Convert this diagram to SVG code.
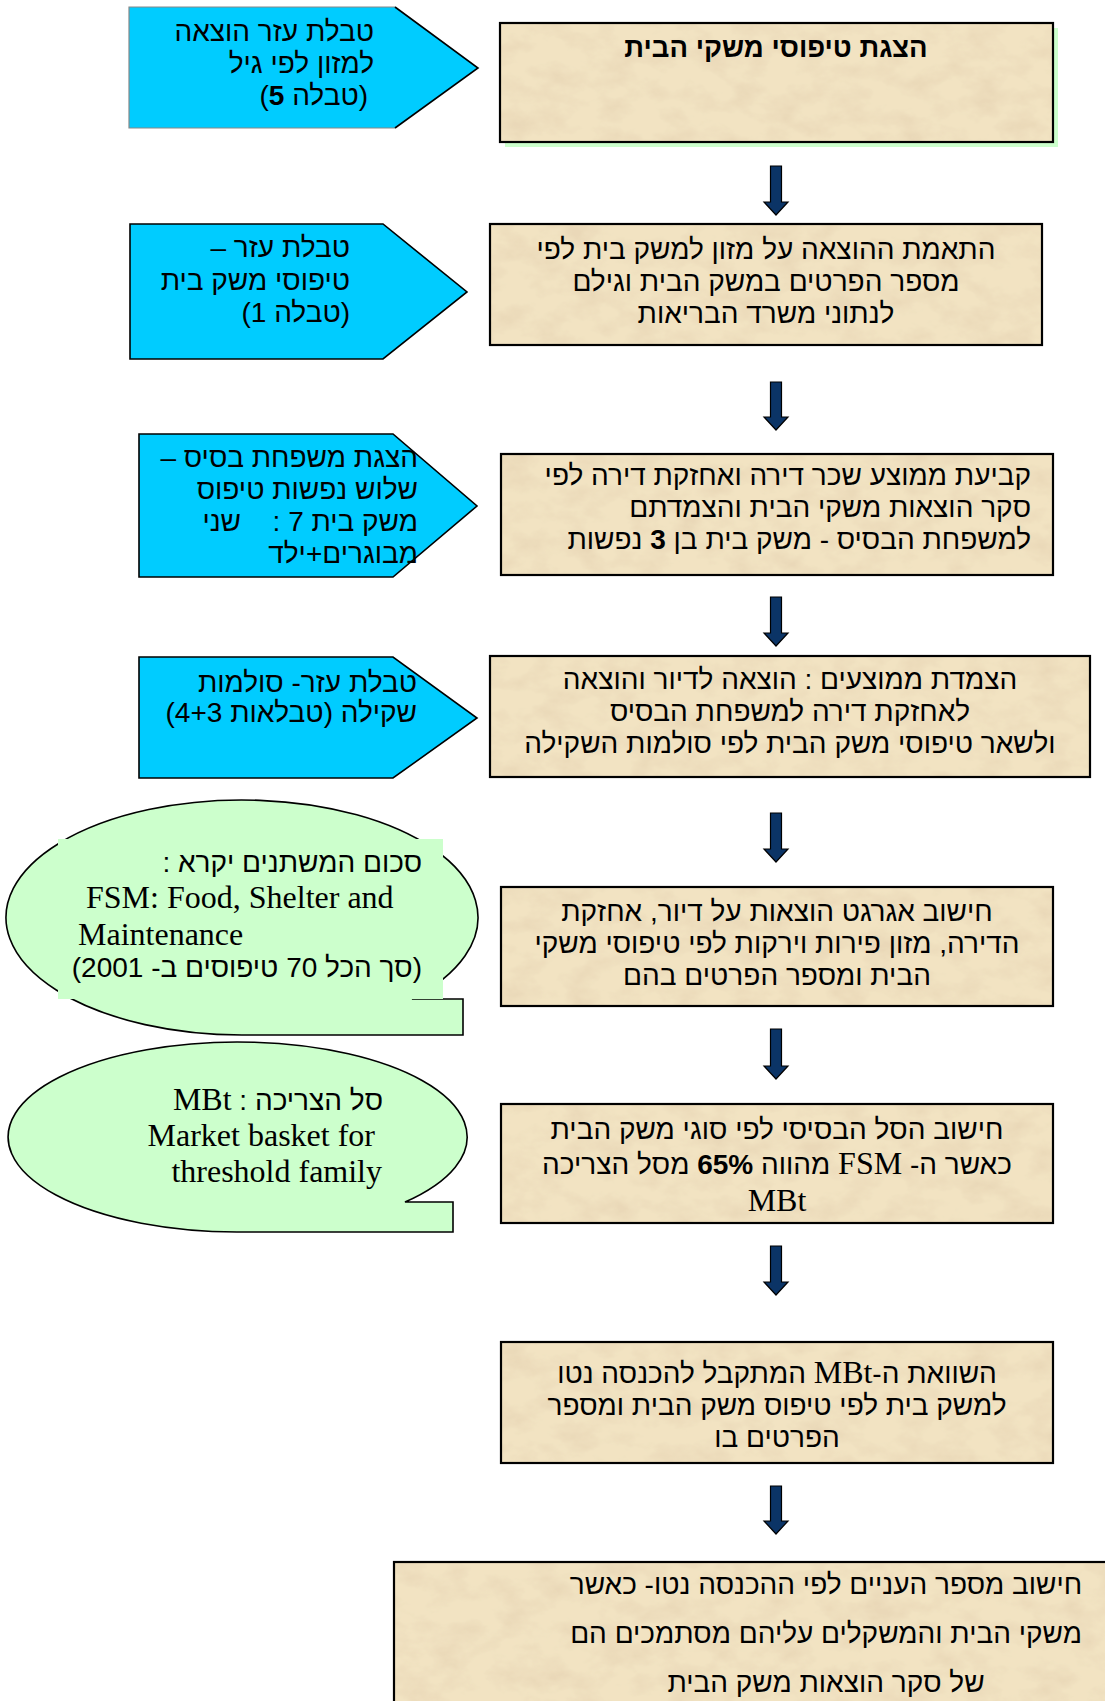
<svg xmlns="http://www.w3.org/2000/svg" width="1105" height="1701" viewBox="0 0 1105 1701">
<style>
.he{font-family:"Liberation Sans","DejaVu Sans",sans-serif;font-size:28px;fill:#000}
.en{font-family:"Liberation Serif","DejaVu Serif",serif;font-size:32px;fill:#000}
.b{font-weight:bold}
.title{font-size:27.5px}
.blue{fill:#00CCFF;stroke:none}
.edge{fill:none;stroke:#000;stroke-width:1.6}
.paper{fill:#F2E3C2;filter:url(#tex)}
.frame{fill:none;stroke:#000;stroke-width:2.2}
.bubble{fill:#CCFFCC;stroke:#000;stroke-width:1.6}
.arrow{fill:#0B3466;stroke:#000;stroke-width:1.2}
</style>
<defs>
<filter id="tex" x="0" y="0" width="1" height="1">
<feTurbulence type="fractalNoise" baseFrequency="0.03 0.045" numOctaves="4" seed="7" result="n"/>
<feColorMatrix in="n" type="matrix" values="0 0 0 0 0.82 0 0 0 0 0.69 0 0 0 0 0.48 2.4 0 0 0 -1.0" result="dark"/>
<feComposite in="dark" in2="SourceGraphic" operator="in" result="d2"/>
<feMerge><feMergeNode in="SourceGraphic"/><feMergeNode in="d2"/></feMerge>
</filter>
</defs>
<rect width="1105" height="1701" fill="#fff"/>

<!-- Left side: pentagons -->
<g id="p1">
<polygon class="blue" points="129,7 395,7 478,68 395,128 129,128"/>
<polyline points="395,7 129,7 129,128 395,128" fill="none" stroke="#888" stroke-width="1.2"/>
<polyline class="edge" points="395,7 478,68 395,128"/>
<text class="he" direction="rtl" text-anchor="start" x="374" y="41">טבלת עזר הוצאה</text>
<text class="he" direction="rtl" text-anchor="start" x="374" y="73">למזון לפי גיל</text>
<text class="he" direction="rtl" text-anchor="start" x="368" y="105">(טבלה <tspan class="b">5</tspan>)</text>
</g>
<g id="p2">
<polygon class="blue" points="130,224 383,224 467,292 383,359 130,359"/>
<polygon class="edge" points="130,224 383,224 467,292 383,359 130,359"/>
<text class="he" direction="rtl" text-anchor="start" x="350" y="257">טבלת עזר –</text>
<text class="he" direction="rtl" text-anchor="start" x="350" y="290">טיפוסי משק בית</text>
<text class="he" direction="rtl" text-anchor="start" x="350" y="322">(טבלה 1)</text>
</g>
<g id="p3">
<polygon class="blue" points="139,434 393,434 477,506 393,577 139,577"/>
<polygon class="edge" points="139,434 393,434 477,506 393,577 139,577"/>
<text class="he" direction="rtl" text-anchor="start" x="418" y="467">הצגת משפחת בסיס –</text>
<text class="he" direction="rtl" text-anchor="start" x="418" y="499">שלוש נפשות טיפוס</text>
<text class="he" direction="rtl" text-anchor="start" x="418" y="531">משק בית 7 :</text>
<text class="he" direction="rtl" text-anchor="start" x="241" y="531">שני</text>
<text class="he" direction="rtl" text-anchor="start" x="418" y="563">מבוגרים+ילד</text>
</g>
<g id="p4">
<polygon class="blue" points="139,657 393,657 477,718 393,778 139,778"/>
<polygon class="edge" points="139,657 393,657 477,718 393,778 139,778"/>
<text class="he" direction="rtl" text-anchor="start" x="417" y="692">טבלת עזר- סולמות</text>
<text class="he" direction="rtl" text-anchor="start" x="417" y="722">שקילה (טבלאות 4+3)</text>
</g>

<!-- Callouts -->
<g id="c1">
<path class="bubble" d="M412,999 L463,999 L463,1035 L244,1035 A236,117.5 0 1 1 412,999 Z"/>
<rect x="58" y="839" width="385" height="160" fill="#CCFFCC"/>
<text class="he" direction="rtl" text-anchor="start" x="422" y="872">סכום המשתנים יקרא :</text>
<text class="en" x="78" y="908" xml:space="preserve"> FSM: Food, Shelter and</text>
<text class="en" x="78" y="945">Maintenance</text>
<text class="he" direction="rtl" text-anchor="start" x="422" y="977">(סך הכל 70 טיפוסים ב- 2001)</text>
</g>
<g id="c2">
<path class="bubble" d="M405,1202 L453,1202 L453,1232 L237,1232 A229.5,95 0 1 1 405,1202 Z"/>
<text class="he" direction="rtl" text-anchor="start" x="383" y="1110">סל הצריכה : <tspan class="en">MBt</tspan></text>
<text class="en" text-anchor="end" x="375" y="1146">Market basket for</text>
<text class="en" text-anchor="end" x="382" y="1182">threshold family</text>
</g>

<!-- Main boxes -->
<g id="b1">
<rect x="505" y="28" width="553" height="119" fill="#CCFFCC"/>
<rect class="paper" x="500" y="23" width="553" height="119"/>
<rect class="frame" x="500" y="23" width="553" height="119"/>
<text class="he b title" direction="rtl" text-anchor="middle" x="776" y="57">הצגת טיפוסי משקי הבית</text>
</g>
<g id="b2">
<rect class="paper" x="490" y="224" width="552" height="121"/>
<rect class="frame" x="490" y="224" width="552" height="121"/>
<text class="he" direction="rtl" text-anchor="middle" x="766" y="259">התאמת ההוצאה על מזון למשק בית לפי</text>
<text class="he" direction="rtl" text-anchor="middle" x="766" y="291">מספר הפרטים במשק הבית וגילם</text>
<text class="he" direction="rtl" text-anchor="middle" x="766" y="323">לנתוני משרד הבריאות</text>
</g>
<g id="b3">
<rect class="paper" x="501" y="454" width="552" height="121"/>
<rect class="frame" x="501" y="454" width="552" height="121"/>
<text class="he" direction="rtl" text-anchor="start" x="1031" y="485">קביעת ממוצע שכר דירה ואחזקת דירה לפי</text>
<text class="he" direction="rtl" text-anchor="start" x="1031" y="517">סקר הוצאות משקי הבית והצמדתם</text>
<text class="he" direction="rtl" text-anchor="start" x="1031" y="549">למשפחת הבסיס - משק בית בן <tspan class="b">3</tspan> נפשות</text>
</g>
<g id="b4">
<rect class="paper" x="490" y="656" width="600" height="121"/>
<rect class="frame" x="490" y="656" width="600" height="121"/>
<text class="he" direction="rtl" text-anchor="middle" x="790" y="689">הצמדת ממוצעים : הוצאה לדיור והוצאה</text>
<text class="he" direction="rtl" text-anchor="middle" x="790" y="721">לאחזקת דירה למשפחת הבסיס</text>
<text class="he" direction="rtl" text-anchor="middle" x="790" y="753">ולשאר טיפוסי משק הבית לפי סולמות השקילה</text>
</g>
<g id="b5">
<rect class="paper" x="501" y="887" width="552" height="119"/>
<rect class="frame" x="501" y="887" width="552" height="119"/>
<text class="he" direction="rtl" text-anchor="middle" x="777" y="921">חישוב אגרגט הוצאות על דיור, אחזקת</text>
<text class="he" direction="rtl" text-anchor="middle" x="777" y="953">הדירה, מזון פירות וירקות לפי טיפוסי משקי</text>
<text class="he" direction="rtl" text-anchor="middle" x="777" y="985">הבית ומספר הפרטים בהם</text>
</g>
<g id="b6">
<rect class="paper" x="501" y="1104" width="552" height="119"/>
<rect class="frame" x="501" y="1104" width="552" height="119"/>
<text class="he" direction="rtl" text-anchor="middle" x="777" y="1139">חישוב הסל הבסיסי לפי סוגי משק הבית</text>
<text class="he" direction="rtl" text-anchor="middle" x="777" y="1174">כאשר ה- <tspan class="en">FSM</tspan> מהווה <tspan class="b">65%</tspan> מסל הצריכה</text>
<text class="en" text-anchor="middle" x="777" y="1211">MBt</text>
</g>
<g id="b7">
<rect class="paper" x="501" y="1342" width="552" height="121"/>
<rect class="frame" x="501" y="1342" width="552" height="121"/>
<text class="he" direction="rtl" text-anchor="middle" x="777" y="1383">השוואת ה-<tspan class="en">MBt</tspan> המתקבל להכנסה נטו</text>
<text class="he" direction="rtl" text-anchor="middle" x="777" y="1415">למשק בית לפי טיפוס משק הבית ומספר</text>
<text class="he" direction="rtl" text-anchor="middle" x="777" y="1447">הפרטים בו</text>
</g>
<g id="b8">
<rect class="paper" x="394" y="1562" width="730" height="200"/>
<rect class="frame" x="394" y="1562" width="730" height="200"/>
<text class="he" direction="rtl" text-anchor="middle" x="826" y="1594">חישוב מספר העניים לפי ההכנסה נטו- כאשר</text>
<text class="he" direction="rtl" text-anchor="middle" x="826" y="1643">משקי הבית והמשקלים עליהם מסתמכים הם</text>
<text class="he" direction="rtl" text-anchor="middle" x="826" y="1692">של סקר הוצאות משק הבית</text>
</g>

<!-- Connectors -->
<g id="connectors">
<path class="arrow" d="M770.5,166 h11 v36 h6.5 l-12,13 l-12,-13 h6.5 z"/>
<path class="arrow" d="M770.5,382 h11 v35 h6.5 l-12,13 l-12,-13 h6.5 z"/>
<path class="arrow" d="M770.5,597 h11 v36 h6.5 l-12,13 l-12,-13 h6.5 z"/>
<path class="arrow" d="M770.5,813 h11 v36 h6.5 l-12,13 l-12,-13 h6.5 z"/>
<path class="arrow" d="M770.5,1029 h11 v37 h6.5 l-12,13 l-12,-13 h6.5 z"/>
<path class="arrow" d="M770.5,1246 h11 v36 h6.5 l-12,13 l-12,-13 h6.5 z"/>
<path class="arrow" d="M770.5,1486 h11 v35 h6.5 l-12,13 l-12,-13 h6.5 z"/>
</g>
</svg>
